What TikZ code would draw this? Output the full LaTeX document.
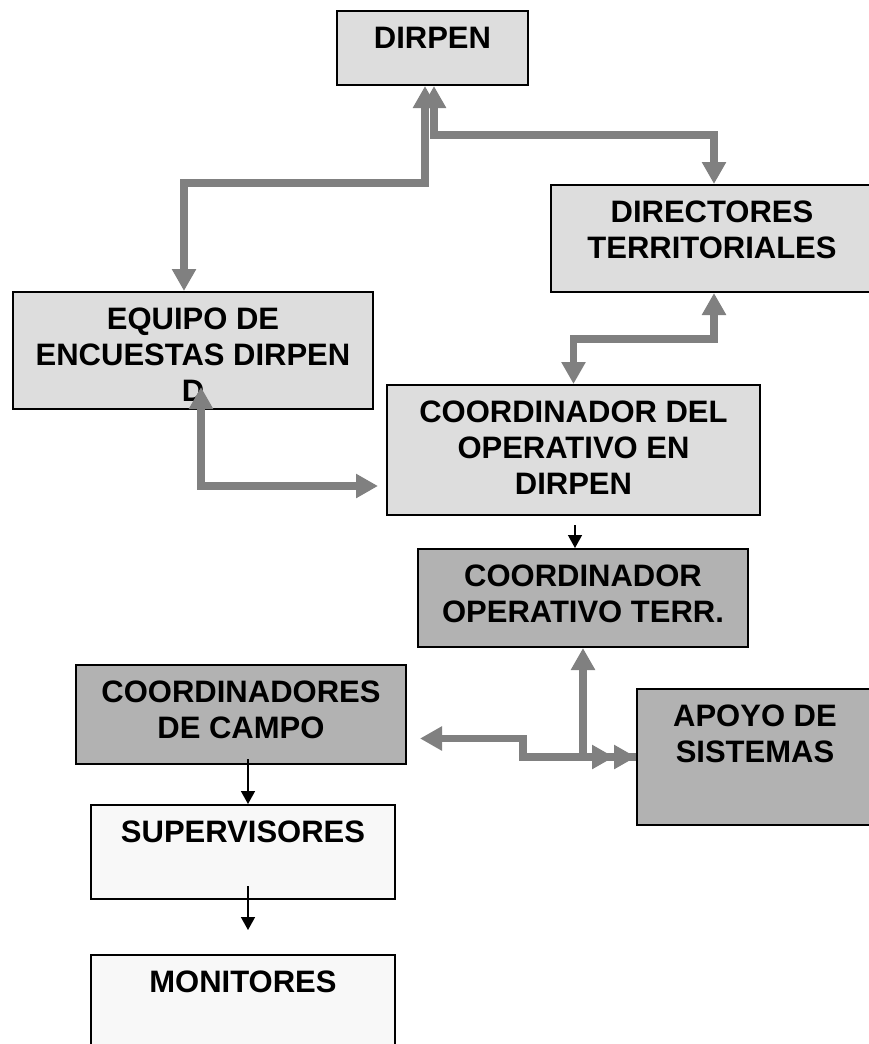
\documentclass[tikz,border=0pt]{standalone}
\usepackage{fontspec}
\setmainfont{Liberation Sans}
\usetikzlibrary{arrows.meta}
\definecolor{grisclaro}{HTML}{DDDDDD}
\definecolor{grisoscuro}{HTML}{B2B2B2}
\definecolor{casiblanco}{HTML}{F8F8F8}
\definecolor{grisflecha}{HTML}{808080}
\newcommand{\cajatxt}[3]{\parbox[t][#2][t]{#1}{\centering #3}}

\begin{document}
\begin{tikzpicture}[x=1pt,y=-1pt,
  caja/.style={draw=black, line width=2pt, anchor=north west, inner xsep=0pt, inner ysep=16pt,
    font=\bfseries\fontsize{31}{36}\selectfont},
  gruesa/.style={draw=grisflecha, line width=7.5pt, >={Triangle[length=22pt,width=23pt]}, <->},
  fina/.style={draw=black, line width=1.5pt, -{Triangle[length=13pt,width=14pt]}}]
\useasboundingbox (0,0) rectangle (869,1044);
\node [caja, fill=grisclaro] (dirpen) at (336,10) {\cajatxt{191pt}{42pt}{DIRPEN}};
\node [caja, fill=grisclaro] (directores) at (550,184) {\cajatxt{322pt}{75pt}{DIRECTORES\\TERRITORIALES}};
\node [caja, fill=grisclaro] (equipo) at (12,291) {\cajatxt{360pt}{85pt}{EQUIPO DE\\ENCUESTAS DIRPEN\\D}};
\node [caja, fill=grisclaro] (cod) at (386,384) {\cajatxt{373pt}{98pt}{COORDINADOR DEL\\OPERATIVO EN\\DIRPEN}};
\node [caja, fill=grisoscuro] (cot) at (417,548) {\cajatxt{330pt}{66pt}{COORDINADOR\\OPERATIVO TERR.}};
\node [caja, fill=grisoscuro] (campo) at (75,664) {\cajatxt{330pt}{67pt}{COORDINADORES\\DE CAMPO}};
\node [caja, fill=grisoscuro] (apoyo) at (636,688) {\cajatxt{236pt}{104pt}{APOYO DE\\SISTEMAS}};
\node [caja, fill=casiblanco] (supervisores) at (90,804) {\cajatxt{304pt}{62pt}{SUPERVISORES}};
\node [caja, fill=casiblanco] (monitores) at (90,954) {\cajatxt{304pt}{78pt}{MONITORES}};
\draw [gruesa] ([xshift=-9pt]equipo.north) -- ++(0,-108) -| ([xshift=-7.5pt]dirpen.south);
\draw [gruesa] ([xshift=1.5pt]dirpen.south) -- ++(0,49) -| ([xshift=2pt]directores.north);
\draw [gruesa] ([xshift=2pt]directores.south) -- ++(0,46) -| (cod.north);
\draw [gruesa] ([xshift=8pt,yshift=23pt]equipo.south) |- ([xshift=-8pt,yshift=-36pt]cod.west);
\draw [fina] ([xshift=1.5pt,yshift=-9pt]cod.south) -- ([xshift=-8pt]cot.north);
\draw [gruesa, <-] (cot.south) |- (apoyo.west);
\draw [gruesa, <->>] ([xshift=13pt,yshift=-24pt]campo.east) -- ++(103,0) |- (apoyo.west);
\draw [fina] ([xshift=7pt,yshift=6pt]campo.south) -- ([xshift=5pt]supervisores.north);
\draw [fina] ([xshift=5pt,yshift=14pt]supervisores.south) -- ([xshift=5pt,yshift=24pt]monitores.north);
\end{tikzpicture}
\end{document}
